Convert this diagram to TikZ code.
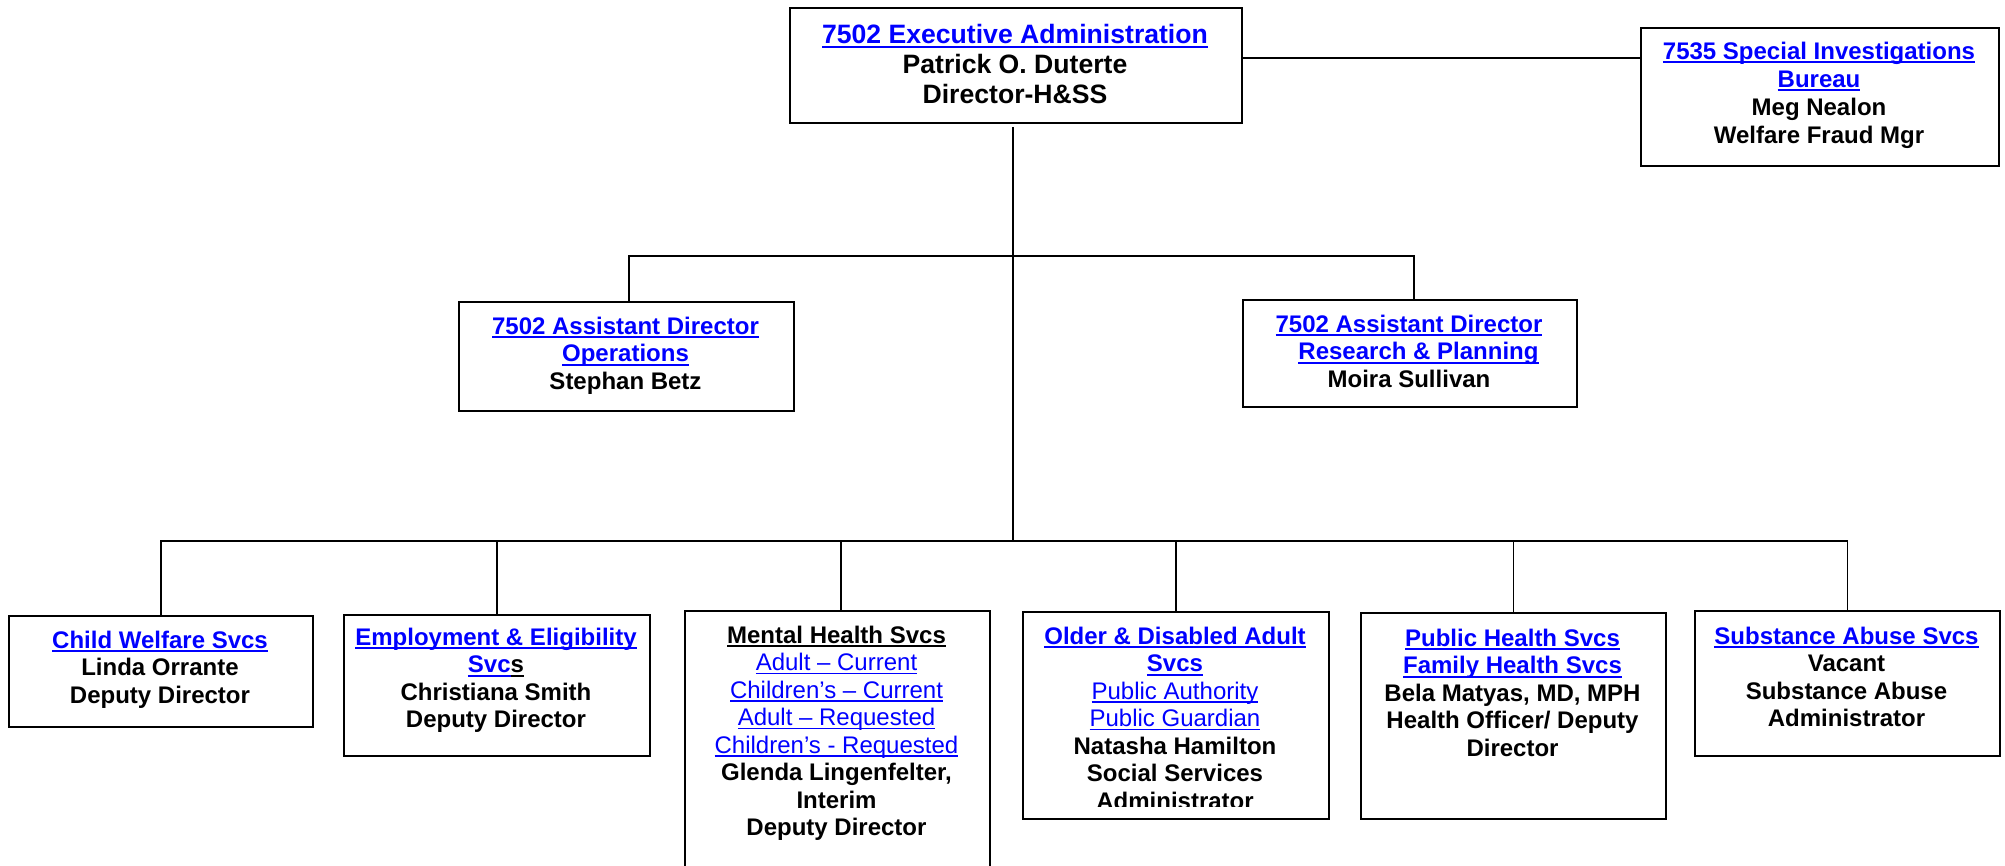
\documentclass[tikz,border=0pt]{standalone}
\usepackage{fontspec}
\setmainfont{Liberation Sans}
\usepackage{xcolor}
\definecolor{linkblue}{RGB}{0,0,255}
\newsavebox{\ulbox}
% \ulbar{thickness}{depth}{text}
\newcommand{\ulbar}[3]{\sbox{\ulbox}{#3}\rlap{\rule[-#2]{\wd\ulbox}{#1}}\usebox{\ulbox}}
\newcommand{\ul}[1]{\ulbar{2pt}{4pt}{#1}}
\newcommand{\lkb}[1]{\textcolor{linkblue}{\ul{#1}}}
\newcommand{\lkt}[1]{\textcolor{linkblue}{\ulbar{2pt}{4.5pt}{#1}}}
\newcommand{\lkr}[1]{{\mdseries\textcolor{linkblue}{\ulbar{1.3pt}{3.5pt}{#1}}}}
\newcommand{\tp}{\rule{0pt}{18pt}}
\tikzset{
  box/.style={draw=black, line width=2pt, rectangle, inner sep=0pt, anchor=north west, fill=white},
  txt/.style={inner sep=0pt, anchor=north, align=center, font=\fontsize{24}{27.5}\selectfont\bfseries},
  conn/.style={draw=black, line width=1.6pt}
}
\begin{document}
\begin{tikzpicture}[x=1pt,y=-1pt]
\useasboundingbox (0,0) rectangle (2005,866);
\clip (0,0) rectangle (2005,866);
\fill[white] (0,0) rectangle (2005,866);
\coordinate (hi) at (0,256);
\coordinate (lo) at (0,541);
\coordinate (sibrow) at (0,58);

% boxes
\node[box, minimum width=452, minimum height=115] (exec) at (789,7) {};
\node[box, minimum width=358, minimum height=138] (sib) at (1640,27) {};
\node[box, minimum width=335, minimum height=109] (ops) at (458,301) {};
\node[box, minimum width=334, minimum height=107] (res) at (1242,299) {};
\node[box, minimum width=304, minimum height=111] (cw) at (8,615) {};
\node[box, minimum width=306, minimum height=141] (emp) at (343,614) {};
\node[box, minimum width=305, minimum height=280] (mh) at (684,610) {};
\node[box, minimum width=306, minimum height=207] (od) at (1022,611) {};
\node[box, minimum width=305, minimum height=206] (ph) at (1360,612) {};
\node[box, minimum width=305, minimum height=145] (sa) at (1694,610) {};

% connectors
\draw[conn, shorten <=3pt] ([xshift=-3pt]exec.south) -- ([xshift=-3pt]exec.south |- lo);
\draw[conn] (exec.east |- sibrow) -- (sib.west |- sibrow);
\draw[conn] ([xshift=2.5pt]ops.north) |- ([xshift=4pt]res.north |- hi) -- ([xshift=4pt]res.north);
\draw[conn] (cw.north) |- (sa.north |- lo) -- (sa.north);
\draw[conn] (emp.north) -- (emp.north |- lo);
\draw[conn] ([xshift=3.5pt]mh.north) -- ([xshift=3.5pt]mh.north |- lo);
\draw[conn] (od.north) -- (od.north |- lo);
\draw[conn] (ph.north) -- (ph.north |- lo);

% texts
\node[txt, font=\fontsize{26.6}{30}\selectfont\bfseries] (exect) at (1015,23)
  {\rule{0pt}{20pt}\lkt{7502 Executive Administration}\\Patrick O. Duterte\\Director-H\&SS};
\node[txt, font=\fontsize{24}{28}\selectfont\bfseries] (sibt) at (1819,41)
  {\tp\lkb{7535 Special Investigations}\\\lkb{Bureau}\\Meg Nealon\\Welfare Fraud Mgr};
\node[txt] (opst) at (625.5,316)
  {\tp\lkb{7502 Assistant Director}\\\lkb{Operations}\\Stephan Betz};
\node[txt] (rest) at (1409,314)
  {\tp\lkb{7502 Assistant Director}\\\hspace*{19pt}\lkb{Research \& Planning}\\Moira Sullivan};
\node[txt] (cwt) at (160,630)
  {\tp\lkb{Child Welfare Svcs}\\Linda Orrante\\Deputy Director};
\node[txt] (empt) at (496,627)
  {\tp\lkb{Employment \& Eligibility}\\\lkb{Svc}\ul{s}\\Christiana Smith\\Deputy Director};
\node[txt] (mht) at (836.5,625)
  {\tp\ul{Mental Health Svcs}\\\lkr{Adult – Current}\\\lkr{Children’s – Current}\\\lkr{Adult – Requested}\\\lkr{Children’s - Requested}\\Glenda Lingenfelter,\\Interim\\Deputy Director};
\begin{scope}
\clip (1023,612) rectangle (1327,806);
\node[txt] (odt) at (1175,626)
  {\tp\lkb{Older \& Disabled Adult}\\\lkb{Svcs}\\\lkr{Public Authority}\\\lkr{Public Guardian}\\Natasha Hamilton\\Social Services\\Administrator};
\end{scope}
\node[txt] (pht) at (1512.5,628)
  {\tp\lkb{Public Health Svcs}\\\lkb{Family Health Svcs}\\Bela Matyas, MD, MPH\\Health Officer/ Deputy\\Director};
\node[txt] (sat) at (1846.5,626)
  {\tp\lkb{Substance Abuse Svcs}\\Vacant\\Substance Abuse\\Administrator};
\end{tikzpicture}
\end{document}
